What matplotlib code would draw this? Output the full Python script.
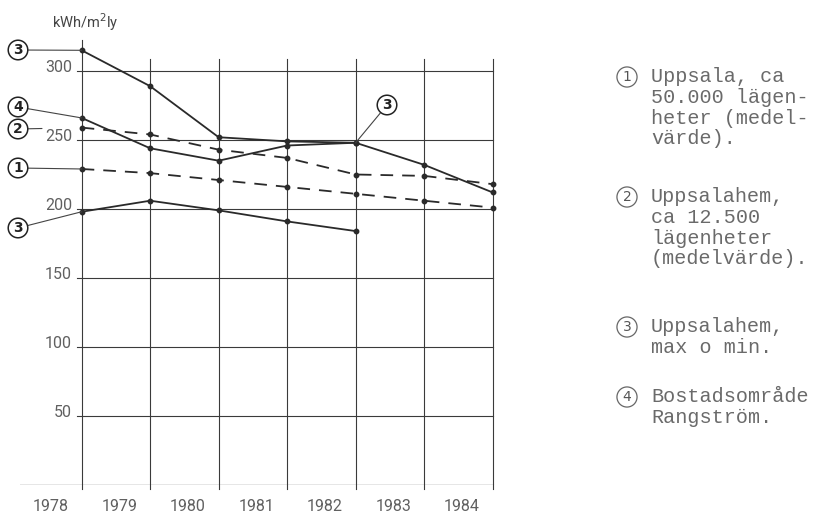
import matplotlib
matplotlib.use("Agg")
import matplotlib.pyplot as plt

# ---- data ----
years = [1978, 1979, 1980, 1981, 1982, 1983, 1984]
uppsala = [229, 226, 221, 216, 211, 206, 201]                 # (1) dashed
uppsalahem = [259, 254, 243, 237, 225, 224, 218]              # (2) dashed
uh_max_years = [1978, 1979, 1980, 1981, 1982]
uh_max = [315, 289, 252, 249, 248]                            # (3) max
uh_min_years = [1978, 1979, 1980, 1981, 1982]
uh_min = [198, 206, 199, 191, 184]                            # (3) min
rangstrom = [266, 244, 235, 246, 248, 232, 212]               # (4)
yticks = [50, 100, 150, 200, 250, 300]
ylabel = "kWh/m$^{2}$ly"
legend_items = [
    ("1", ["Uppsala, ca", "50.000 lägen-", "heter (medel-", "värde)."]),
    ("2", ["Uppsalahem,", "ca 12.500", "lägenheter", "(medelvärde)."]),
    ("3", ["Uppsalahem,", "max o min."]),
    ("4", ["Bostadsområde", "Rangström."]),
]

W, H = 828, 513
fig = plt.figure(figsize=(W / 100, H / 100), dpi=100)
fig.patch.set_facecolor("white")

# axes placement (pixel based)
x0_year, x_px0, px_per_year = 1977.1, 20, 68.5
xmax = 1984.05
y_bottom_px, px_per_unit, ymax = 485, 1.38, 330
left = x_px0 / W
width = (xmax - x0_year) * px_per_year / W
bottom = (H - y_bottom_px) / H
height = ymax * px_per_unit / H
ax = fig.add_axes([left, bottom, width, height])
ax.set_xlim(x0_year, xmax)
ax.set_ylim(0, ymax)
ax.axis("off")

grid_c = "#3a3a3a"
txt_c = "#606060"
line_c = "#2a2a2a"
tick_font = dict(family=["Liberation Sans Narrow", "Roboto", "DejaVu Sans"], fontsize=11.5, color=txt_c)
mono = dict(family=["Liberation Mono", "DejaVu Sans Mono"], fontsize=14.5, color="#6a6a6a")

# grid
for yv in yticks:
    ax.plot([1977.93, years[-1]], [yv, yv], color=grid_c, lw=0.8, zorder=1)
    ax.text(1977.86, yv + 2.5, str(yv), ha="right", va="center", **tick_font)
ax.plot([x0_year, years[-1]], [0, 0], color=grid_c, lw=0.9, zorder=1)
for i, yr in enumerate(years):
    top = 322.5 if i == 0 else 309
    ax.plot([yr, yr], [-3, top], color=grid_c, lw=0.8, zorder=1, clip_on=False)
    ax.text(yr - 0.45, -15.5, str(yr), ha="center", va="center", clip_on=False, **tick_font)

# series
mk = dict(marker="o", markersize=3.2, color=line_c, zorder=3)
ax.plot(years, uppsala, lw=1.3, dashes=(7, 5), **mk)
ax.plot(years, uppsalahem, lw=1.3, dashes=(7, 5), **mk)
ax.plot(uh_max_years, uh_max, lw=1.3, **mk)
ax.plot(uh_min_years, uh_min, lw=1.3, **mk)
ax.plot(years, rangstrom, lw=1.3, **mk)

# circled callouts
def px2data(px, py):
    return (x0_year + (px - x_px0) / px_per_year, (y_bottom_px - py) / px_per_unit)

circ = dict(boxstyle="circle,pad=0.2", fc="white", ec="#222222", lw=1.1)
def callout(label, pxy, target, ls="-"):
    xt, yt = px2data(*pxy)
    ax.annotate(label, xy=target, xytext=(xt, yt), textcoords="data",
                ha="center", va="center", fontsize=10, fontweight="bold",
                color="#222222", bbox=circ, annotation_clip=False,
                arrowprops=dict(arrowstyle="-", color="#444444", lw=0.8,
                                shrinkA=0, shrinkB=0, linestyle=ls))

callout("3", (18, 50), (years[0], uh_max[0]))
callout("4", (18, 107), (years[0], rangstrom[0]))
callout("2", (18, 129), px2data(42, 128.5))
callout("1", (18, 168), (years[0], uppsala[0]))
callout("3", (18, 228), (years[0], uh_min[0]))
callout("3", (387, 105), (uh_max_years[-1], uh_max[-1]))

# y-axis title
fig.text(52 / W, 1 - 22 / H, ylabel, ha="left", va="center",
         family=["Liberation Sans Narrow", "Roboto", "DejaVu Sans"], fontsize=10.5, color="#444444")

# legend text
circ2 = dict(boxstyle="circle,pad=0.22", fc="white", ec="#666666", lw=0.9)
starts = [77, 197, 327, 397]
for (num, lines), y0 in zip(legend_items, starts):
    fig.text(627 / W, 1 - y0 / H, num, ha="center", va="center",
             family=["DejaVu Sans"], fontsize=10, color="#555555", bbox=circ2)
    for k, ln in enumerate(lines):
        fig.text(651 / W, 1 - (y0 + k * 20.5) / H, ln, ha="left", va="center", **mono)

fig.savefig("out.png", dpi=100, facecolor="white")
